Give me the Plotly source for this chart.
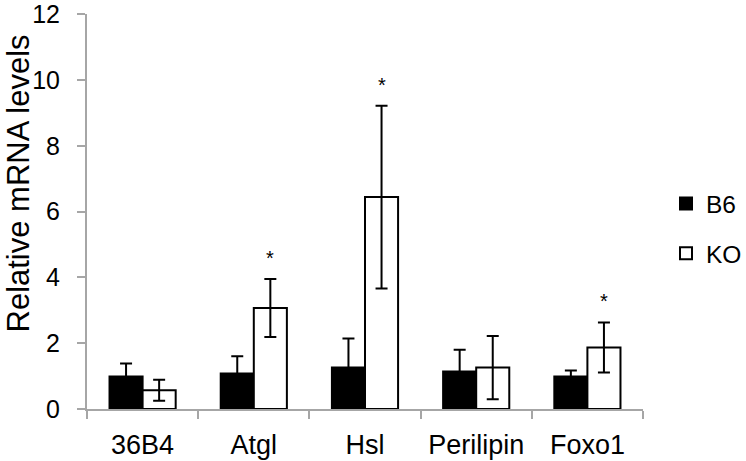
import plotly.graph_objects as go

categories = ["36B4", "Atgl", "Hsl", "Perilipin", "Foxo1"]
b6_values = [0.99, 1.08, 1.26, 1.14, 0.99]
b6_errors = [0.39, 0.52, 0.88, 0.66, 0.18]
ko_values = [0.57, 3.07, 6.44, 1.26, 1.87]
ko_errors = [0.32, 0.88, 2.78, 0.96, 0.76]
significant = ["", "*", "*", "", "*"]
y_ticks = [0, 2, 4, 6, 8, 10, 12]

FONT = "Liberation Sans, Arial, sans-serif"
AXIS_GRAY = "#A6A6A6"
BARGAP = 0.405
W, H = 746, 461
ML, MR, MT, MB = 87, 103, 14, 52

fig = go.Figure()
fig.add_trace(go.Bar(
    x=categories, y=b6_values, name="B6", legendgroup="b6",
    marker=dict(color="black", line=dict(color="black", width=2)),
    error_y=dict(type="data", array=b6_errors, color="black", thickness=2, width=6),
))
fig.add_trace(go.Bar(
    x=categories, y=ko_values, name="KO", legendgroup="ko",
    marker=dict(color="white", line=dict(color="black", width=2)),
    error_y=dict(type="data", array=ko_errors, color="black", thickness=2, width=6),
))

ko_offset = (1 - BARGAP) / 4
for i, s in enumerate(significant):
    if s:
        fig.add_annotation(
            x=i + ko_offset, y=ko_values[i] + ko_errors[i], text=s, showarrow=False,
            yshift=21, xref="x", yref="y",
            font=dict(family=FONT, size=20, color="black"),
        )

plot_w = W - ML - MR
plot_h = H - MT - MB
# y-axis title (placed as rotated text to match the original's offset)
fig.add_annotation(
    text="Relative mRNA levels", textangle=-90, showarrow=False,
    xref="paper", yref="paper", x=-ML / plot_w, y=(H - MB - 184) / plot_h,
    xanchor="left", yanchor="middle", xshift=-1,
    font=dict(family=FONT, size=31, color="black"),
)

fig.update_layout(
    template="none",
    width=W, height=H,
    margin=dict(l=ML, r=MR, t=MT, b=MB, autoexpand=False),
    paper_bgcolor="white", plot_bgcolor="white",
    barmode="group", bargap=BARGAP, bargroupgap=0,
    font=dict(family=FONT, color="black"),
    showlegend=True,
    legend=dict(
        xref="container", yref="container",
        x=666 / W, y=1 - 228.5 / H, xanchor="left", yanchor="middle",
        font=dict(family=FONT, size=24.5, color="black"),
        tracegroupgap=15, traceorder="grouped",
        bgcolor="rgba(0,0,0,0)", borderwidth=0,
    ),
    xaxis=dict(
        type="category", showline=True, linecolor=AXIS_GRAY, linewidth=2,
        ticks="outside", tickson="boundaries", ticklen=8, tickcolor=AXIS_GRAY, tickwidth=2,
        tickfont=dict(family=FONT, size=27, color="black"),
        ticklabelstandoff=11, automargin=False,
        showgrid=False, zeroline=False,
    ),
    yaxis=dict(
        range=[0, 12.005], tickmode="array", tickvals=y_ticks, showline=True,
        linecolor=AXIS_GRAY, linewidth=2,
        ticks="outside", ticklen=8, tickcolor=AXIS_GRAY, tickwidth=2,
        tickfont=dict(family=FONT, size=25, color="black"),
        ticklabelstandoff=12, automargin=False, ticklabeloverflow="allow",
        showgrid=False, zeroline=False,
    ),
)

fig.write_html(
    "out.html",
    config={"displayModeBar": False},
    post_script="document.body.style.margin='0';document.body.style.overflow='hidden';",
)
